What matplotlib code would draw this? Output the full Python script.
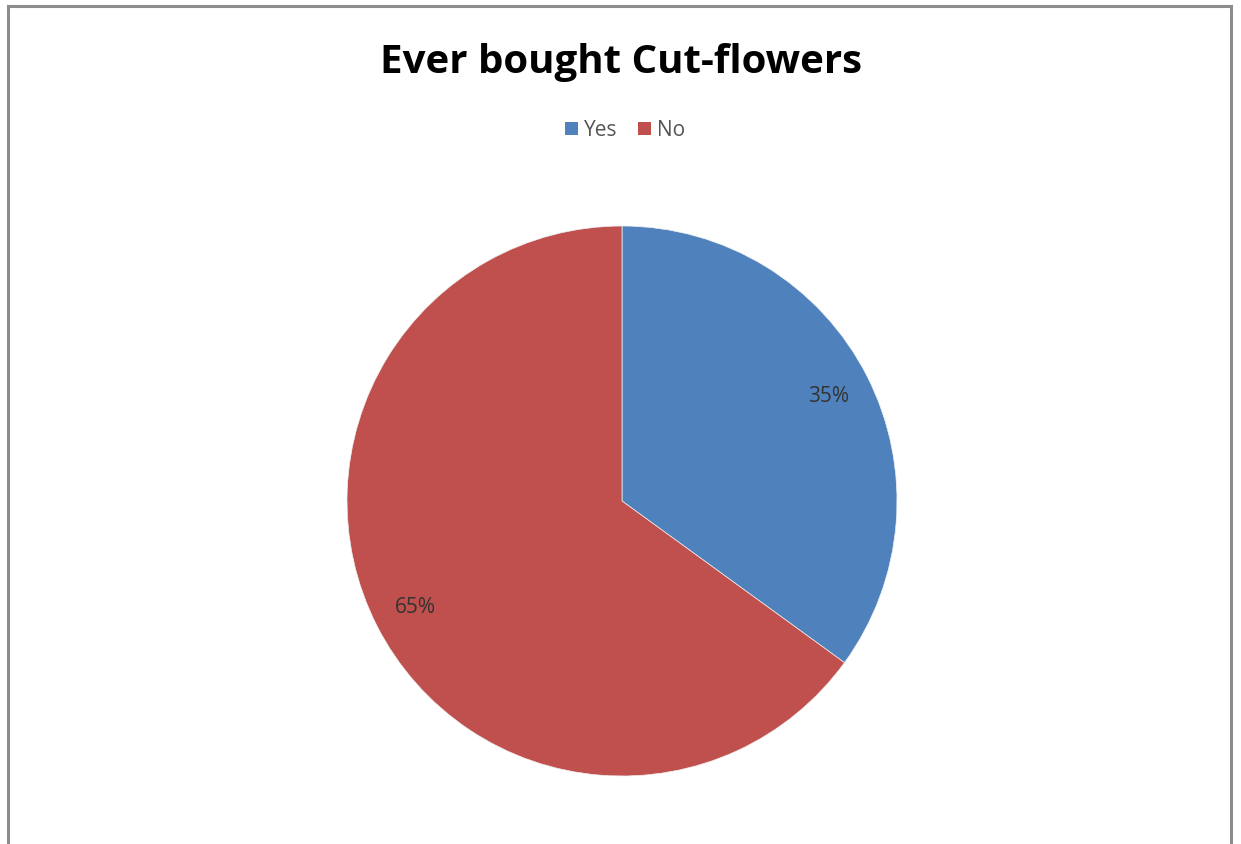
import matplotlib
matplotlib.use("Agg")
import matplotlib.pyplot as plt
from matplotlib.patches import Patch

categories = ["Yes", "No"]
values = [35, 65]
colors = ["#4F81BD", "#C0504D"]
title = "Ever bought Cut-flowers"

W, H = 1241, 845
fig = plt.figure(figsize=(W / 100, H / 100), dpi=100)
fig.patch.set_facecolor("white")

# border
bc = "#8c8c8c"
fig.add_artist(plt.Line2D([8 / W, 8 / W], [0, 1 - 7 / H], transform=fig.transFigure, color=bc, lw=2.2))
fig.add_artist(plt.Line2D([1231 / W, 1231 / W], [0, 1 - 7 / H], transform=fig.transFigure, color=bc, lw=2.2))
fig.add_artist(plt.Line2D([8 / W, 1231 / W], [1 - 7 / H, 1 - 7 / H], transform=fig.transFigure, color=bc, lw=2.2))

cx, cy, r = 622, 502, 275
ax = fig.add_axes([(cx - r) / W, (H - cy - r) / H, 2 * r / W, 2 * r / H])
wedges, texts, autotexts = ax.pie(
    values, colors=colors, startangle=90, counterclock=False,
    autopct="%d%%", pctdistance=0.845, radius=1.0,
    wedgeprops=dict(linewidth=0.5, edgecolor="#f0f0f0"),
    textprops=dict(fontsize=15, color="#333333", family="Open Sans"),
)
ax.set_xlim(-1, 1)
ax.set_ylim(-1, 1)
ax.set_aspect("equal")
ax.axis("off")

fig.text(621 / W, 1 - 63 / H, title, ha="center", va="center",
         fontsize=29, fontweight="bold", family="Open Sans", color="black")

handles = [Patch(facecolor=c, edgecolor="none") for c in colors]
fig.legend(handles, categories, loc="center", bbox_to_anchor=(625 / W, 1 - 131 / H),
           ncol=2, frameon=False, handlelength=0.6, handleheight=0.6,
           handletextpad=0.3, columnspacing=1.0,
           labelcolor="#555555", prop=dict(family="Open Sans", size=15))

fig.savefig("out.png", dpi=100, facecolor="white")
